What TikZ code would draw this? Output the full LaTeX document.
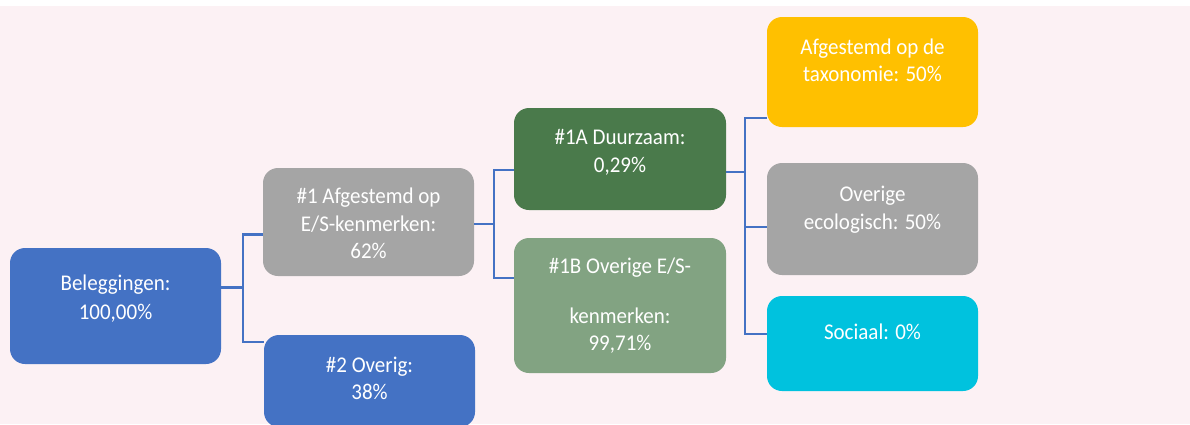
\documentclass[tikz,border=0pt]{standalone}
\usepackage{fontspec}
\usepackage{graphicx}
\setmainfont{Carlito}
\definecolor{bgpink}{HTML}{FCF1F4}
\definecolor{cblue}{HTML}{4472C4}
\definecolor{cgray}{HTML}{A5A5A5}
\definecolor{cdgreen}{HTML}{4A7A4B}
\definecolor{clgreen}{HTML}{82A382}
\definecolor{cgold}{HTML}{FFC000}
\definecolor{ccyan}{HTML}{00C2DE}
\newcommand{\stxt}[1]{\scalebox{1}[1.07]{#1}}
\begin{document}
\begin{tikzpicture}[x=1pt,y=-1pt,
  box/.style={rectangle, rounded corners=15pt, draw=none, inner sep=0pt},
  txt/.style={anchor=base, inner sep=0pt, text=white, font=\fontsize{21}{28}\selectfont},
  conn/.style={draw=cblue, line width=2.4pt}]
\useasboundingbox (0,0) rectangle (1190,424);
\fill[white] (0,0) rectangle (1190,424);
\fill[bgpink] (0,6) rectangle (1190,424);
\begin{scope}
\clip (0,0) rectangle (1190,424);
% boxes
\node[box, fill=cblue, minimum width=211pt, minimum height=116pt] (bel) at (115.5,306) {};
\node[box, fill=cgray, minimum width=211pt, minimum height=108pt] (n1) at (368.5,222) {};
\node[box, fill=cblue, minimum width=211pt, minimum height=92pt] (n2) at (369.5,381) {};
\node[box, fill=cdgreen, minimum width=212pt, minimum height=102pt] (n1a) at (620,159) {};
\node[box, fill=clgreen, minimum width=212pt, minimum height=135pt] (n1b) at (620,305.5) {};
\node[box, fill=cgold, minimum width=211pt, minimum height=110pt] (t1) at (872.5,72) {};
\node[box, fill=cgray, minimum width=211pt, minimum height=112pt] (t2) at (872.5,219) {};
\node[box, fill=ccyan, minimum width=211pt, minimum height=95pt] (t3) at (872.5,343.5) {};
\end{scope}
% texts
\node[txt] (belA) at (115.5,290) {\stxt{Beleggingen:}};
\node[txt] (belB) at (115.5,319) {\stxt{100,00\%}};
\node[txt] (n1A) at (368.5,203) {\stxt{\#1 Afgestemd op}};
\node[txt] (n1B) at (368.5,231) {\stxt{E/S-kenmerken:}};
\node[txt] (n1C) at (368.5,258) {\stxt{62\%}};
\node[txt] (n2A) at (369.5,372) {\stxt{\#2 Overig:}};
\node[txt] (n2B) at (369.5,399) {\stxt{38\%}};
\node[txt] (n1aA) at (620,144.5) {\stxt{\#1A Duurzaam:}};
\node[txt] (n1aB) at (620,172) {\stxt{0,29\%}};
\node[txt] (n1bA) at (620,273) {\stxt{\#1B Overige E/S-}};
\node[txt] (n1bB) at (620,323) {\stxt{kenmerken:}};
\node[txt] (n1bC) at (620,350) {\stxt{99,71\%}};
\node[txt] (t1A) at (872.5,54) {\stxt{Afgestemd op de}};
\node[txt] (t1B) at (872.5,81.5) {\stxt{taxonomie: 50\%}};
\node[txt] (t2A) at (872.5,201) {\stxt{Overige}};
\node[txt] (t2B) at (872.5,229) {\stxt{ecologisch: 50\%}};
\node[txt] (t3A) at (872.5,339) {\stxt{Sociaal: 0\%}};
% junctions
\coordinate (h1) at (243,287.5);
\coordinate (y11) at (0,234.5);
\coordinate (y12) at (0,342);
\coordinate (h2) at (494,224);
\coordinate (y21) at (0,170);
\coordinate (y22) at (0,278);
\coordinate (h3) at (745,172);
\coordinate (y31) at (0,118);
\coordinate (y32) at (0,227);
\coordinate (y33) at (0,334);
% connectors
\draw[conn] (bel.east |- h1) -- (h1);
\draw[conn] (n1.west |- y11) -| (h1) |- (n2.west |- y12);
\draw[conn] (n1.east |- h2) -- (h2);
\draw[conn] (n1a.west |- y21) -| (h2) |- (n1b.west |- y22);
\draw[conn] (n1a.east |- h3) -- (h3);
\draw[conn] (t1.west |- y31) -| (h3) |- (t3.west |- y33);
\draw[conn] (h3 |- y32) -- (t2.west |- y32);
\end{tikzpicture}
\end{document}
